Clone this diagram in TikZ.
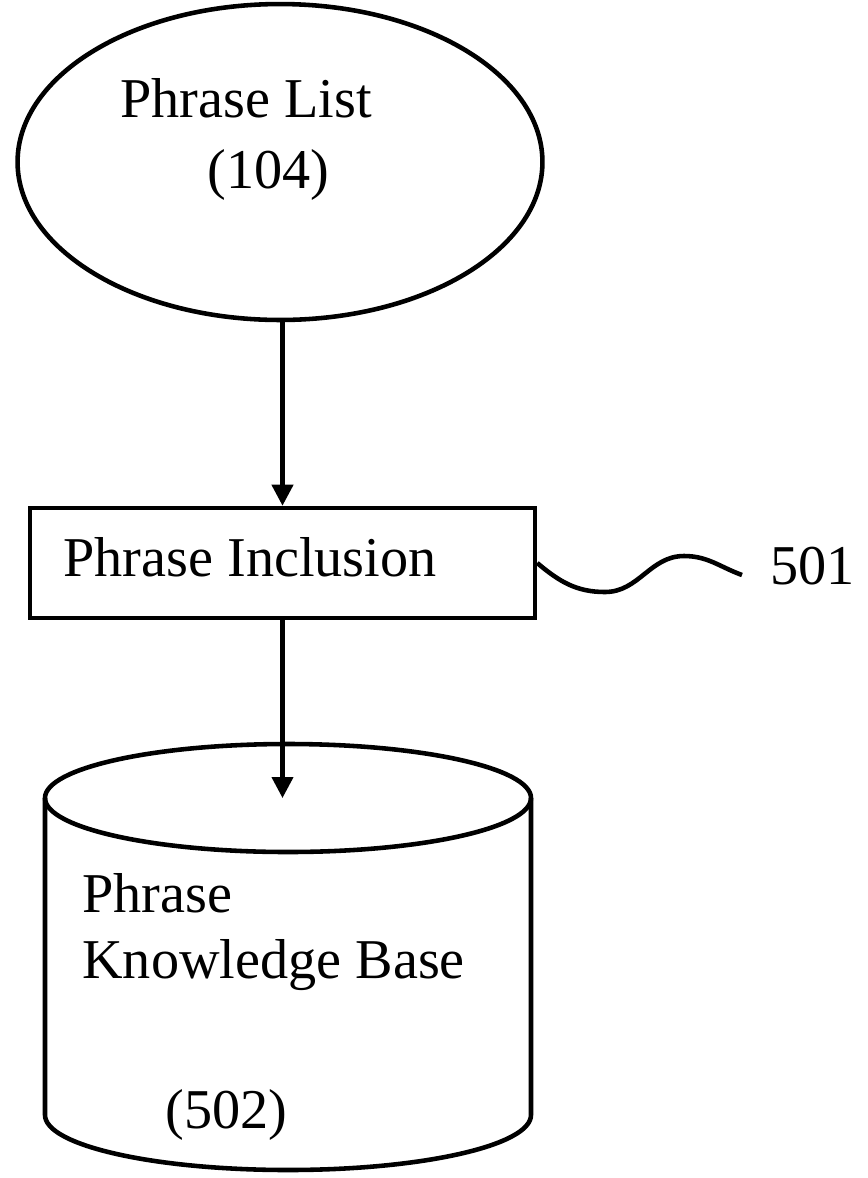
\documentclass[tikz,border=0pt]{standalone}
\usepackage{fontspec}
\setmainfont{Liberation Serif}
\usetikzlibrary{shapes.geometric,arrows.meta}

\newcommand{\figfont}{\fontsize{32}{38}\selectfont}

\tikzset{
	outline/.style={line width=2.6pt},
	flowarrow/.style={line width=2.4pt, -{Triangle[length=0.42cm,width=0.42cm]}},
	figtext/.style={font=\figfont, inner sep=0pt, anchor=base west},
}

\begin{document}
\begin{tikzpicture}[x=0.02cm, y=-0.02cm]
		\useasboundingbox (0,0) rectangle (867,1178);
		% phrase list
		\node[ellipse, draw, outline, minimum width=10.5cm, minimum height=6.32cm] (list) at (280,162) {};
		\node[figtext] (listname) at (120,117) {Phrase List};
		\node[figtext] (listnum) at (207,188) {(104)};
		% phrase inclusion
		\node[draw, outline, minimum width=10.1cm, minimum height=2.2cm, inner sep=0pt] (incl) at (282.5,563) {};
		\node[figtext] (inclname) at (63,576) {Phrase Inclusion};
		\draw[flowarrow] (list.south -| incl.north) -- (incl.north);
		% reference mark 501
		\coordinate (tagend) at (742,575);
		\draw[outline] (incl.east) to[out=-40,in=180] (605,592) to[out=0,in=180] (684,556) to[out=0,in=160] (tagend);
		\node[figtext] (tag) at (770,584) {501};
		% knowledge base
		\coordinate (kbtop) at (288,798);
		\draw[outline] (kbtop) ellipse (243 and 54);
		\draw[outline] (45,798) -- (45,1115) arc (180:0:243 and 55) -- (531,798);
		\draw[flowarrow] (incl.south) -- (incl.south |- kbtop);
		\node[figtext] (kbname) at (82,912) {Phrase};
		\node[figtext] (kbname2) at (82,978) {Knowledge Base};
		\node[figtext] (kbnum) at (165,1128) {(502)};
	\end{tikzpicture}
\end{document}
